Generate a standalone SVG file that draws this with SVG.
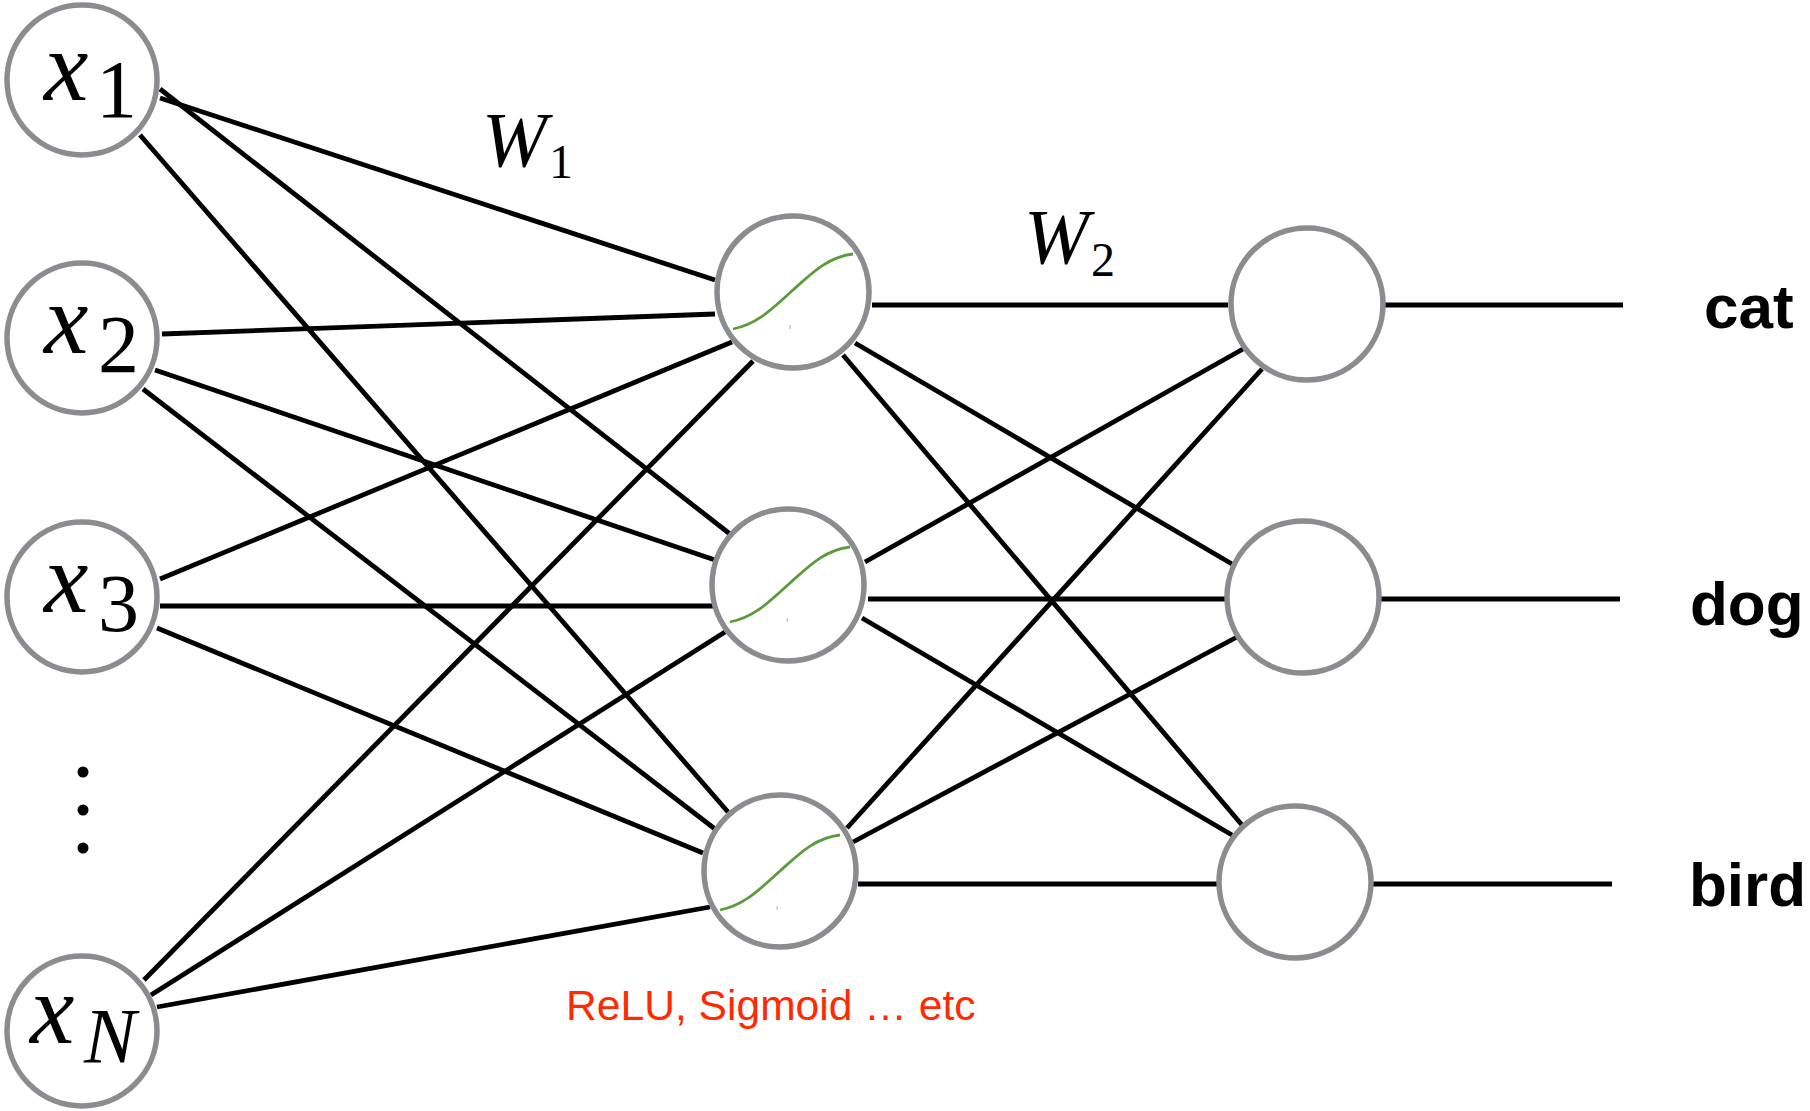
<svg xmlns="http://www.w3.org/2000/svg" width="1810" height="1111" viewBox="0 0 1810 1111">
<defs>
<style>
.edge{stroke:#000;stroke-width:4.8;fill:none;stroke-linecap:butt}
.node{fill:#fff;stroke:#8a8c90;stroke-width:5.5}
.sig{fill:none;stroke:#5b9b3c;stroke-width:2.8}
.mx{font-family:"Liberation Serif","Times New Roman",serif;font-style:italic;fill:#000}
.mr{font-family:"Liberation Serif","Times New Roman",serif;fill:#000}
.lab{font-family:"Liberation Sans",Arial,sans-serif;font-weight:bold;font-size:62px;fill:#000}
.act{font-family:"Liberation Sans",Arial,sans-serif;font-size:42.6px;fill:#ff2a00}
</style>
<path id="sigmoid" class="sig" d="M-60,37 C-35,32 -20,16 0,-2 C20,-20 35,-35 60,-38"/>
</defs>
<rect width="1810" height="1111" fill="#fff"/>
<g id="connectors">
<line class="edge" x1="160" y1="98" x2="715" y2="280"/>
<line class="edge" x1="160" y1="89" x2="730" y2="534"/>
<line class="edge" x1="140" y1="135" x2="728" y2="812"/>
<line class="edge" x1="162" y1="334" x2="715" y2="314"/>
<line class="edge" x1="155" y1="370" x2="715" y2="560"/>
<line class="edge" x1="143" y1="389" x2="715" y2="829"/>
<line class="edge" x1="160" y1="579" x2="732" y2="342"/>
<line class="edge" x1="160" y1="606" x2="713" y2="606"/>
<line class="edge" x1="157" y1="628" x2="703" y2="853"/>
<line class="edge" x1="144" y1="980" x2="753" y2="361"/>
<line class="edge" x1="151" y1="995" x2="725" y2="632"/>
<line class="edge" x1="157" y1="1007" x2="710" y2="907"/>
<line class="edge" x1="872" y1="305" x2="1228" y2="305"/>
<line class="edge" x1="855" y1="343" x2="1232" y2="564"/>
<line class="edge" x1="843" y1="355" x2="1242" y2="825"/>
<line class="edge" x1="865" y1="562" x2="1243" y2="349"/>
<line class="edge" x1="868" y1="599" x2="1225" y2="599"/>
<line class="edge" x1="862" y1="618" x2="1232" y2="835"/>
<line class="edge" x1="847" y1="828" x2="1262" y2="369"/>
<line class="edge" x1="853" y1="842" x2="1237" y2="637"/>
<line class="edge" x1="858" y1="884" x2="1217" y2="884"/>
<line class="edge" x1="1384" y1="305" x2="1623" y2="305"/>
<line class="edge" x1="1380" y1="599" x2="1620" y2="599"/>
<line class="edge" x1="1372" y1="884" x2="1612" y2="884"/>
</g>
<g id="x1">
<circle class="node" cx="82" cy="80" r="75"/>
<text class="mx" x="44" y="100" font-size="100">x</text>
<text class="mr" x="96" y="117" font-size="82">1</text>
</g>
<g id="x2">
<circle class="node" cx="82" cy="338" r="75"/>
<text class="mx" x="44" y="353" font-size="100">x</text>
<text class="mr" x="98" y="372" font-size="82">2</text>
</g>
<g id="x3">
<circle class="node" cx="82" cy="597" r="75"/>
<text class="mx" x="44" y="612" font-size="100">x</text>
<text class="mr" x="98" y="631" font-size="82">3</text>
</g>
<g id="ellipsis">
<circle cx="83" cy="772" r="5.5" fill="#000"/>
<circle cx="83" cy="810" r="5.5" fill="#000"/>
<circle cx="83" cy="848" r="5.5" fill="#000"/>
</g>
<g id="xN">
<circle class="node" cx="82" cy="1031" r="75"/>
<text class="mx" x="30" y="1043" font-size="100">x</text>
<text class="mx" x="84" y="1062" font-size="78">N</text>
</g>
<g id="h1">
<circle class="node" cx="793" cy="292" r="76"/>
<use href="#sigmoid" x="793" y="292"/>
<rect x="789.5" y="325" width="1.5" height="4" fill="#ccc"/>
</g>
<g id="h2">
<circle class="node" cx="788" cy="585" r="76"/>
<use href="#sigmoid" x="790" y="585"/>
<rect x="786.5" y="618" width="1.5" height="4" fill="#ccc"/>
</g>
<g id="h3">
<circle class="node" cx="780" cy="871" r="76"/>
<use href="#sigmoid" x="780" y="873"/>
<rect x="776.5" y="906" width="1.5" height="4" fill="#ccc"/>
</g>
<g id="o1"><circle class="node" cx="1307" cy="304" r="76"/></g>
<g id="o2"><circle class="node" cx="1303" cy="597" r="76"/></g>
<g id="o3"><circle class="node" cx="1295" cy="882" r="76"/></g>
<g id="labels">
<text class="mx" x="482" y="166" font-size="78">W</text>
<text class="mr" x="549" y="178" font-size="48">1</text>
<text class="mx" x="1024" y="263" font-size="78">W</text>
<text class="mr" x="1091" y="276" font-size="48">2</text>
<text class="lab" x="1704" y="328">cat</text>
<text class="lab" x="1690" y="625">dog</text>
<text class="lab" x="1689" y="906">bird</text>
<text class="act" x="566" y="1020">ReLU, Sigmoid … etc</text>
</g>
</svg>
